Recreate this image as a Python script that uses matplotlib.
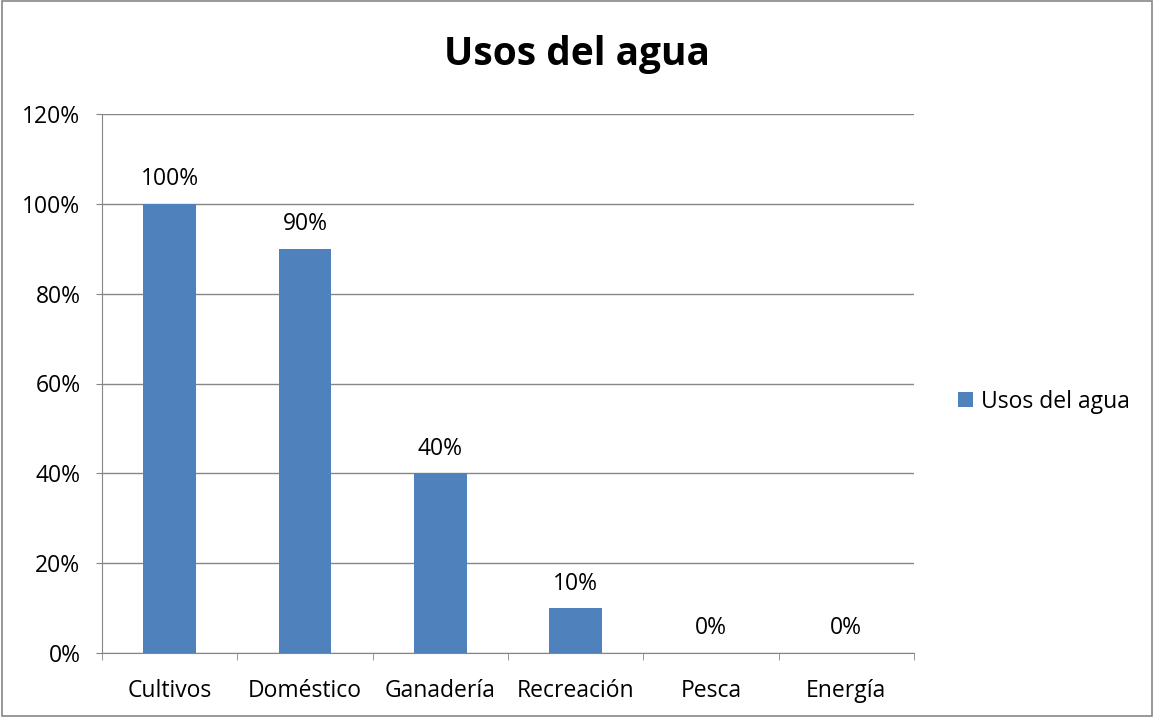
import matplotlib.pyplot as plt
from matplotlib.patches import Rectangle
from matplotlib.ticker import FuncFormatter

categorias = ["Cultivos", "Doméstico", "Ganadería", "Recreación", "Pesca", "Energía"]
valores = [1.00, 0.90, 0.40, 0.10, 0.0, 0.0]
etiquetas = ["100%", "90%", "40%", "10%", "0%", "0%"]

plt.rcParams['font.family'] = ['Open Sans', 'DejaVu Sans']

fig = plt.figure(figsize=(11.54, 7.17), dpi=100)
ax = fig.add_axes([102 / 1154, 64 / 717, 812 / 1154, 539 / 717])

azul = "#4F81BD"
gris = "#868686"
fs = 16.5

x = list(range(len(categorias)))
ax.bar(x, valores, width=0.39, color=azul, label="Usos del agua", zorder=3)

for xi, v, t in zip(x, valores, etiquetas):
    ax.text(xi, v + 0.028, t, ha="center", va="bottom", fontsize=fs)

ax.set_xlim(-0.5, len(categorias) - 0.5)
ax.set_ylim(0, 1.2)
ax.set_yticks([0, 0.2, 0.4, 0.6, 0.8, 1.0, 1.2])
ax.yaxis.set_major_formatter(FuncFormatter(lambda v, p: f"{v * 100:.0f}%"))
ax.tick_params(axis="y", length=4.5, color=gris, labelsize=fs, pad=11)
ax.set_xticks(x)
ax.set_xticklabels(categorias, fontsize=fs)
ax.tick_params(axis="x", length=0, pad=19)
ax.set_xticks([i - 0.5 for i in range(len(categorias) + 1)], minor=True)
ax.tick_params(axis="x", which="minor", length=5, color=gris)

ax.grid(axis="y", color=gris, linewidth=1, zorder=0)
for s in ["top", "right"]:
    ax.spines[s].set_visible(False)
ax.spines["left"].set_color(gris)
ax.spines["bottom"].set_color(gris)

fig.text(0.5, 1 - 55 / 717, "Usos del agua", ha="center", va="center",
         fontsize=28, fontweight="bold")

ax.legend(loc="center left", bbox_to_anchor=(1.029, 0.466), frameon=False,
          fontsize=fs, handlelength=0.65, handleheight=0.65, handletextpad=0.35)

fig.patches.append(Rectangle((0.002, 0.002), 0.996, 0.996, transform=fig.transFigure,
                             fill=False, edgecolor=gris, linewidth=1.2))

fig.savefig("out.png", dpi=100)
